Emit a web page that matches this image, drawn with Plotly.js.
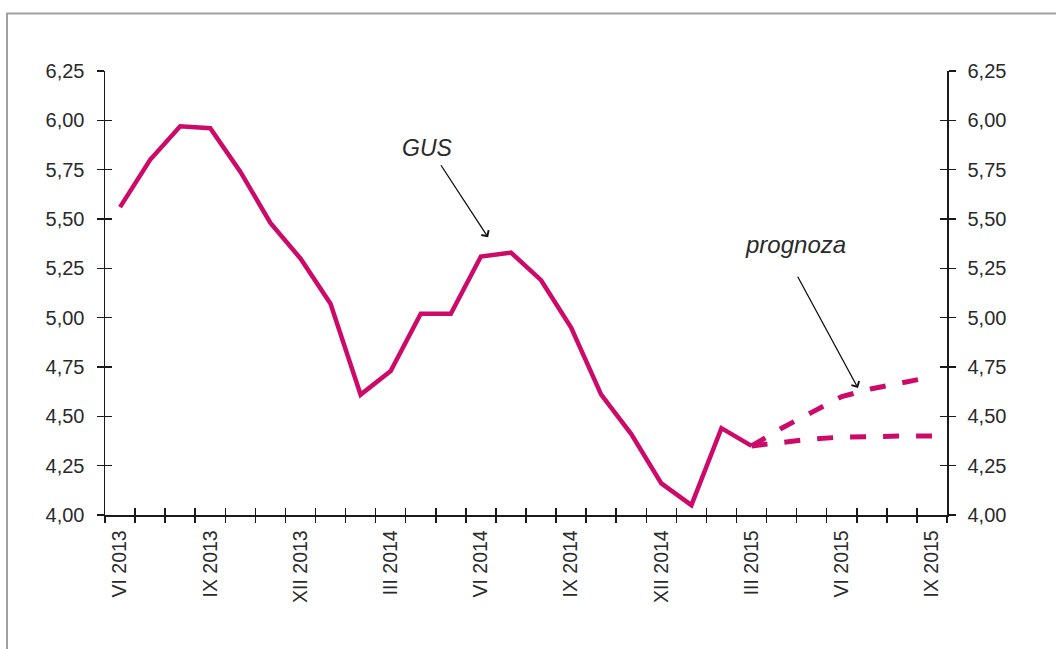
<!DOCTYPE html>
<html>
<head>
<meta charset="utf-8">
<script src="https://cdn.plot.ly/plotly-3.0.1.min.js"></script>
<style>
html,body{margin:0;padding:0;background:#fff;}
#chart{width:1056px;height:649px;}
</style>
</head>
<body>
<div id="chart"></div>
<script>
// Months (categories) from VI 2013 to IX 2015
const months = ['VI 2013','VII 2013','VIII 2013','IX 2013','X 2013','XI 2013','XII 2013',
  'I 2014','II 2014','III 2014','IV 2014','V 2014','VI 2014','VII 2014','VIII 2014','IX 2014','X 2014','XI 2014','XII 2014',
  'I 2015','II 2015','III 2015','IV 2015','V 2015','VI 2015','VII 2015','VIII 2015','IX 2015'];
const tickLabels = ['VI 2013','IX 2013','XII 2013','III 2014','VI 2014','IX 2014','XII 2014','III 2015','VI 2015','IX 2015'];

// GUS actual (VI 2013 - III 2015)
const gusMonths = months.slice(0, 22);
const gusValues = [5.56, 5.80, 5.97, 5.96, 5.74, 5.48, 5.30, 5.07, 4.61, 4.73, 5.02, 5.02,
  5.31, 5.33, 5.19, 4.95, 4.61, 4.41, 4.16, 4.05, 4.44, 4.35];

// Forecast (III 2015 - IX 2015)
const fcMonths = months.slice(21);
const fcUpper = [4.35, 4.44, 4.52, 4.60, 4.64, 4.67, 4.70];
const fcLower = [4.35, 4.37, 4.385, 4.395, 4.40, 4.40, 4.40];

const yTicks = [4.00, 4.25, 4.50, 4.75, 5.00, 5.25, 5.50, 5.75, 6.00, 6.25];

const col = '#cc0a6a';
const axisCol = '#1a1a1a';
const txtCol = '#2a2a2a';
const fontFam = 'Liberation Sans, Arial, sans-serif';

const nCat = months.length;
const boundaries = [];
for (let i = 0; i <= nCat; i++) boundaries.push(i - 0.5);
const xr = [-0.5, nCat - 0.5];
const yr = [4.0, 6.25];

const traces = [
  {x: gusMonths, y: gusValues, type: 'scatter', mode: 'lines', name: 'GUS',
   line: {color: col, width: 4.5}, xaxis: 'x', yaxis: 'y', hoverinfo: 'skip'},
  {x: fcMonths, y: fcUpper, type: 'scatter', mode: 'lines', name: 'prognoza górna',
   line: {color: col, width: 5, dash: '16px,17px'}, xaxis: 'x', yaxis: 'y', hoverinfo: 'skip'},
  {x: fcMonths, y: fcLower, type: 'scatter', mode: 'lines', name: 'prognoza dolna',
   line: {color: col, width: 5, dash: '16px,17px'}, xaxis: 'x', yaxis: 'y', hoverinfo: 'skip'},
  // empty helper traces so the overlay tick axes are drawn
  {x: [null], y: [null], xaxis: 'x2', yaxis: 'y2', type: 'scatter', mode: 'lines', hoverinfo: 'skip'},
  {x: [null], y: [null], xaxis: 'x3', yaxis: 'y3', type: 'scatter', mode: 'lines', hoverinfo: 'skip'},
  {x: [null], y: [null], xaxis: 'x2', yaxis: 'y4', type: 'scatter', mode: 'lines', hoverinfo: 'skip'},
  {x: [null], y: [null], xaxis: 'x3', yaxis: 'y5', type: 'scatter', mode: 'lines', hoverinfo: 'skip'}
];

const yTickFont = {family: fontFam, size: 20, color: txtCol};
const xTickFont = {family: fontFam, size: 19.5, color: txtCol};

const layout = {
  width: 1056, height: 649,
  margin: {l: 105, r: 109, t: 70.5, b: 134, pad: 0},
  paper_bgcolor: '#fff', plot_bgcolor: '#fff',
  showlegend: false,
  separators: ', ',
  xaxis: {
    type: 'category', categoryorder: 'array', categoryarray: months,
    range: xr, tickmode: 'array', tickvals: tickLabels, ticktext: tickLabels,
    ticks: '', tickangle: -90, tickfont: xTickFont, ticklabelstandoff: 6,
    showline: true, linecolor: axisCol, linewidth: 1.5, showgrid: false, zeroline: false,
    anchor: 'y', fixedrange: true
  },
  xaxis2: {
    overlaying: 'x', anchor: 'y', range: xr, type: 'linear',
    tickmode: 'array', tickvals: boundaries, ticks: 'outside', ticklen: 7, tickwidth: 1.5,
    tickcolor: axisCol, showticklabels: false, showgrid: false, zeroline: false, showline: false
  },
  xaxis3: {
    overlaying: 'x', anchor: 'y', range: xr, type: 'linear',
    tickmode: 'array', tickvals: boundaries, ticks: 'inside', ticklen: 7, tickwidth: 1.5,
    tickcolor: axisCol, showticklabels: false, showgrid: false, zeroline: false, showline: false
  },
  yaxis: {
    range: yr, tickmode: 'array', tickvals: yTicks, tickformat: '.2f',
    ticks: 'outside', ticklen: 7, tickwidth: 1.5, tickcolor: axisCol,
    tickfont: yTickFont, ticklabelstandoff: 8,
    showline: true, linecolor: axisCol, linewidth: 1.5, showgrid: false, zeroline: false,
    anchor: 'x', fixedrange: true
  },
  yaxis2: {
    overlaying: 'y', anchor: 'x2', side: 'left', range: yr,
    tickmode: 'array', tickvals: yTicks, ticks: 'inside', ticklen: 7, tickwidth: 1.5,
    tickcolor: axisCol, showticklabels: false, showgrid: false, zeroline: false, showline: false
  },
  yaxis3: {
    overlaying: 'y', anchor: 'x3', side: 'right', range: yr,
    tickmode: 'array', tickvals: yTicks, tickformat: '.2f',
    ticks: 'outside', ticklen: 7, tickwidth: 1.5, tickcolor: axisCol,
    tickfont: yTickFont, ticklabelstandoff: 8,
    showline: true, linecolor: axisCol, linewidth: 1.5, showgrid: false, zeroline: false
  },
  yaxis4: {
    overlaying: 'y', anchor: 'x2', side: 'right', range: yr,
    tickmode: 'array', tickvals: yTicks, ticks: 'inside', ticklen: 7, tickwidth: 1.5,
    tickcolor: axisCol, showticklabels: false, showgrid: false, zeroline: false, showline: false
  },
  yaxis5: {
    overlaying: 'y', anchor: 'x3', side: 'left', range: yr,
    tickmode: 'array', tickvals: yTicks, ticks: '', showticklabels: false,
    showgrid: false, zeroline: false, showline: false
  },
  annotations: [
    {x: 10.24, y: 5.862, xref: 'x', yref: 'y', text: '<i>GUS</i>', showarrow: false,
     font: {family: fontFam, size: 23, color: txtCol}},
    {x: 12.24, y: 5.407, xref: 'x', yref: 'y', ax: 10.64, ay: 5.78, axref: 'x', ayref: 'y',
     text: '', showarrow: true, arrowhead: 4, arrowsize: 1.3, arrowwidth: 1.3, arrowcolor: '#111'},
    {x: 22.45, y: 5.371, xref: 'x', yref: 'y', text: '<i>prognoza</i>', showarrow: false,
     font: {family: fontFam, size: 24, color: txtCol}},
    {x: 24.54, y: 4.643, xref: 'x', yref: 'y', ax: 22.51, ay: 5.215, axref: 'x', ayref: 'y',
     text: '', showarrow: true, arrowhead: 4, arrowsize: 1.3, arrowwidth: 1.3, arrowcolor: '#111'}
  ],
  shapes: [
    {type: 'rect', xref: 'paper', yref: 'paper', x0: -0.1164, x1: 1.3, y0: -0.5, y1: 1.1294,
     line: {color: '#a0a0a0', width: 2}, fillcolor: 'rgba(0,0,0,0)', layer: 'below'}
  ]
};

Plotly.newPlot('chart', traces, layout, {staticPlot: true, displayModeBar: false});
</script>
</body>
</html>
